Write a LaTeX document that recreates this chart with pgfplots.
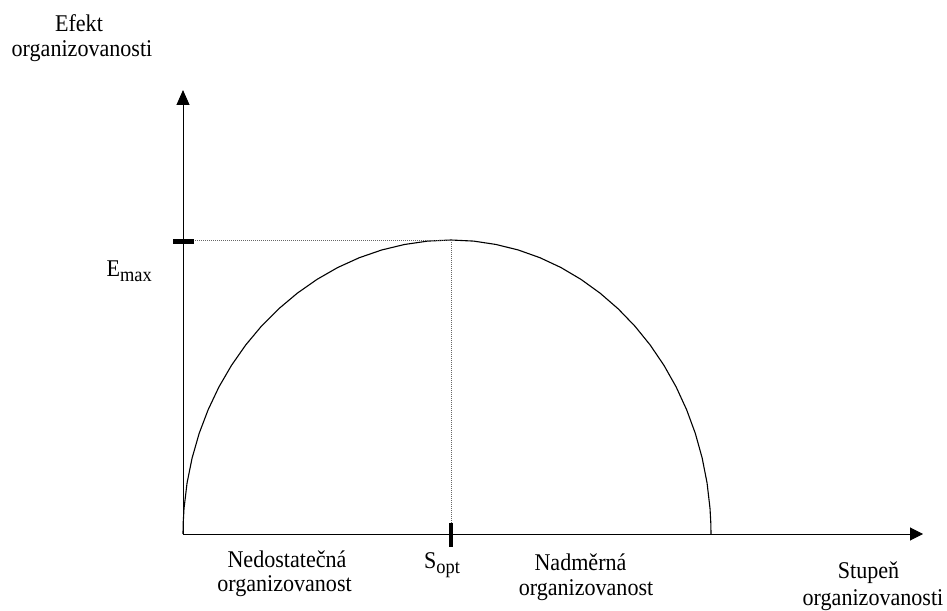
\documentclass[border=0pt]{standalone}
\usepackage{fontspec}
\setmainfont[FakeStretch=0.92]{Liberation Serif}
\usepackage{pgfplots}
\pgfplotsset{compat=1.18}
\usetikzlibrary{arrows.meta}
\newcommand{\lbl}{\fontsize{24}{26}\selectfont}
\newcommand{\sub}[1]{\raisebox{-5pt}{\fontsize{20}{20}\selectfont #1}}
\begin{document}
\begin{tikzpicture}
\begin{axis}[
  scale only axis, width=947pt, height=609pt,
  xmin=-183, xmax=764, ymin=-75, ymax=534,
  hide axis, clip=false,
]
\path (axis cs:-183,-75) rectangle (axis cs:764,534);
% curve
\addplot[black, line width=1.1pt] coordinates {
(0,0) (0.16,10.3) (1.02,25.6) (4.07,51.1) (9.13,76.1) (16.16,100.6)
(25.11,124.2) (35.90,147.0) (48.47,168.6) (62.70,189.0) (78.49,207.9)
(95.73,225.2) (114.28,240.8) (134.0,254.6) (154.74,266.5) (176.34,276.3)
(198.64,284.0) (221.46,289.5) (244.64,292.9) (268,294)
(290.66,292.9) (313.15,289.5) (335.29,284.0) (356.93,276.3) (377.88,266.5)
(398,254.6) (417.13,240.8) (435.13,225.2) (451.85,207.9) (467.17,189.0)
(480.98,168.6) (493.17,147.0) (503.64,124.2) (512.32,100.6) (519.14,76.1)
(524.05,51.1) (527.01,25.6) (527.84,10.3) (528,0)
};
% dotted guides
\addplot[black!60, line width=0.9pt, dash pattern=on 1pt off 1pt] coordinates {(0,294) (268,294)};
\addplot[black!60, line width=0.9pt, dash pattern=on 1pt off 1pt] coordinates {(268,294) (268,11)};
% axes
\draw[line width=1pt, -{Triangle[length=15pt,width=13pt]}] (axis cs:0,0) -- (axis cs:0,444);
\draw[line width=1pt, -{Triangle[length=13pt,width=13pt]}] (axis cs:0,0) -- (axis cs:740,0);
% ticks
\draw[line width=4.5pt] (axis cs:-10,292.5) -- (axis cs:11,292.5);
\draw[line width=3.5pt] (axis cs:268,11) -- (axis cs:268,-13);
% labels
\node[anchor=base, inner sep=0] at (axis cs:-104,502) {\lbl Efekt};
\node[anchor=base, inner sep=0] at (axis cs:-101,477) {\lbl organizovanosti};
\node[anchor=base east, inner sep=0] at (axis cs:-31,257) {\lbl E\sub{max}};
\node[anchor=base west, inner sep=0] at (axis cs:241,-34) {\lbl S\sub{opt}};
\node[anchor=base, inner sep=0] at (axis cs:104,-33) {\lbl Nedostatečná};
\node[anchor=base, inner sep=0] at (axis cs:101.5,-57) {\lbl organizovanost};
\node[anchor=base, inner sep=0] at (axis cs:397.5,-36) {\lbl Nadměrná};
\node[anchor=base, inner sep=0] at (axis cs:403,-61) {\lbl organizovanost};
\node[anchor=base, inner sep=0] at (axis cs:685.5,-44) {\lbl Stupeň};
\node[anchor=base, inner sep=0] at (axis cs:690,-71) {\lbl organizovanosti};
\end{axis}
\end{tikzpicture}
\end{document}
